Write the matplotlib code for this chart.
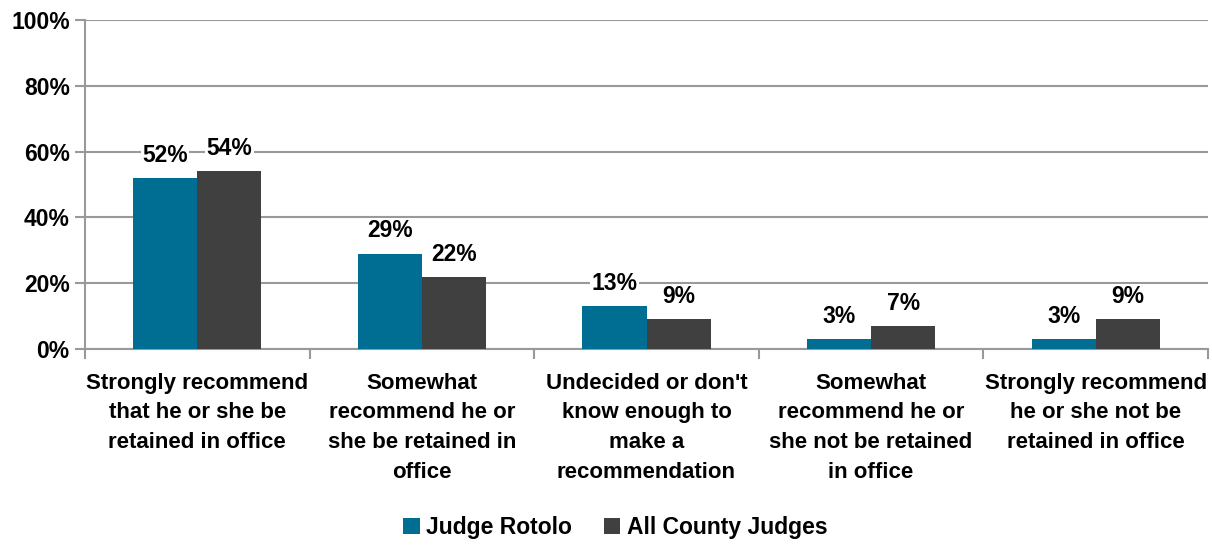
import numpy as np
import matplotlib.pyplot as plt
from matplotlib import font_manager

categories = [
    "Strongly recommend\nthat he or she be\nretained in office",
    "Somewhat\nrecommend he or\nshe be retained in\noffice",
    "Undecided or don't\nknow enough to\nmake a\nrecommendation",
    "Somewhat\nrecommend he or\nshe not be retained\nin office",
    "Strongly recommend\nhe or she not be\nretained in office",
]
rotolo = [52, 29, 13, 3, 3]
all_judges = [54, 22, 9, 7, 9]
series_names = ["Judge Rotolo", "All County Judges"]
colors = ["#006E93", "#404040"]

names = {f.name for f in font_manager.fontManager.ttflist}
fam = "Liberation Sans Narrow" if "Liberation Sans Narrow" in names else "Liberation Sans"
plt.rcParams['font.family'] = [fam, 'DejaVu Sans']
plt.rcParams['font.weight'] = 'bold'

fig = plt.figure(figsize=(12.12, 5.46), dpi=100)
ax = fig.add_axes([85 / 1212, 1 - 349 / 546, 1123 / 1212, 329 / 546])

x = np.arange(len(categories))
w = 0.285
b1 = ax.bar(x - w / 2, rotolo, w, color=colors[0], label=series_names[0], zorder=3)
b2 = ax.bar(x + w / 2, all_judges, w, color=colors[1], label=series_names[1], zorder=3)

for bars, vals in ((b1, rotolo), (b2, all_judges)):
    for r, v in zip(bars, vals):
        ax.annotate(f"{v}%", (r.get_x() + r.get_width() / 2, v), xytext=(0, 8),
                    textcoords="offset points", ha="center", va="bottom",
                    fontsize=16.5, fontweight="bold", zorder=4,
                    bbox=dict(facecolor="white", edgecolor="none", pad=1))

ax.set_xlim(-0.5, len(categories) - 0.5)
ax.set_ylim(0, 100)
ax.set_yticks(range(0, 101, 20))
ax.set_yticklabels([f"{t}%" for t in range(0, 101, 20)], fontsize=16.5, fontweight="bold")
ax.yaxis.grid(True, color="#999999", linewidth=1.5, zorder=0)
ax.set_axisbelow(True)

ax.set_xticks(x)
ax.set_xticklabels(categories, fontsize=16, fontweight="bold", linespacing=1.55)
ax.tick_params(axis="x", length=0, pad=17)
ax.set_xticks(np.arange(-0.5, len(categories)), minor=True)
ax.tick_params(axis="x", which="minor", length=7, width=1.5, color="#999999")
ax.tick_params(axis="y", length=7, width=1.5, color="#999999", pad=4)

for s in ["top", "right"]:
    ax.spines[s].set_visible(False)
for s in ["left", "bottom"]:
    ax.spines[s].set_color("#999999")
    ax.spines[s].set_linewidth(1.5)

fig.legend(loc="lower center", bbox_to_anchor=(0.508, -0.025), ncol=2, frameon=False,
           prop={"size": 16.5, "weight": "bold"}, handlelength=0.7, handleheight=0.7,
           handletextpad=0.3, columnspacing=1.4)

fig.savefig("out.png", dpi=100)
